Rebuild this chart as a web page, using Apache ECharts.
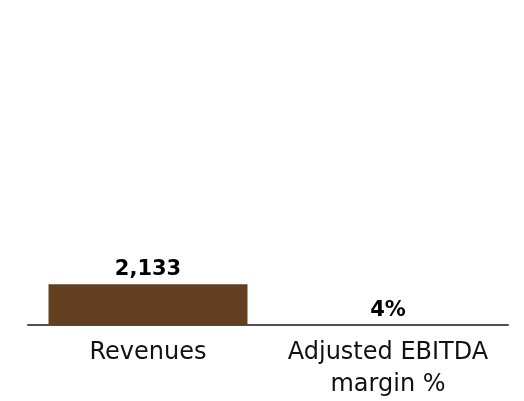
<!DOCTYPE html>
<html><head><meta charset="utf-8">
<script src="https://cdn.jsdelivr.net/npm/echarts@6/dist/echarts.min.js"></script>
<style>html,body{margin:0;padding:0;background:#fff}#c{width:524px;height:401px}</style>
</head><body><div id="c"></div>
<script>
const categories = ['Revenues', 'Adjusted EBITDA\nmargin %'];
const values = [2133, 4];
const valueLabels = ['2,133', '4%'];

const chart = echarts.init(document.getElementById('c'), null, {renderer: 'canvas'});
chart.setOption({
  animation: false,
  grid: {left: 28, right: 16, top: 134, bottom: 75, containLabel: false},
  xAxis: {
    type: 'category', data: categories,
    axisLine: {lineStyle: {color: '#505050', width: 2}},
    axisTick: {show: false},
    axisLabel: {fontFamily: 'DejaVu Sans', fontSize: 24, color: '#111', lineHeight: 32, margin: 12, interval: 0}
  },
  yAxis: {type: 'value', min: 0, max: 10000, show: false, splitLine: {show: false}},
  series: [{
    type: 'bar', data: values, barWidth: 199,
    itemStyle: {color: '#633f22'},
    label: {show: true, position: 'top', distance: 4, fontFamily: 'DejaVu Sans', fontWeight: 'bold', fontSize: 21, color: '#000',
      formatter: p => valueLabels[p.dataIndex]}
  }]
});
</script></body></html>
